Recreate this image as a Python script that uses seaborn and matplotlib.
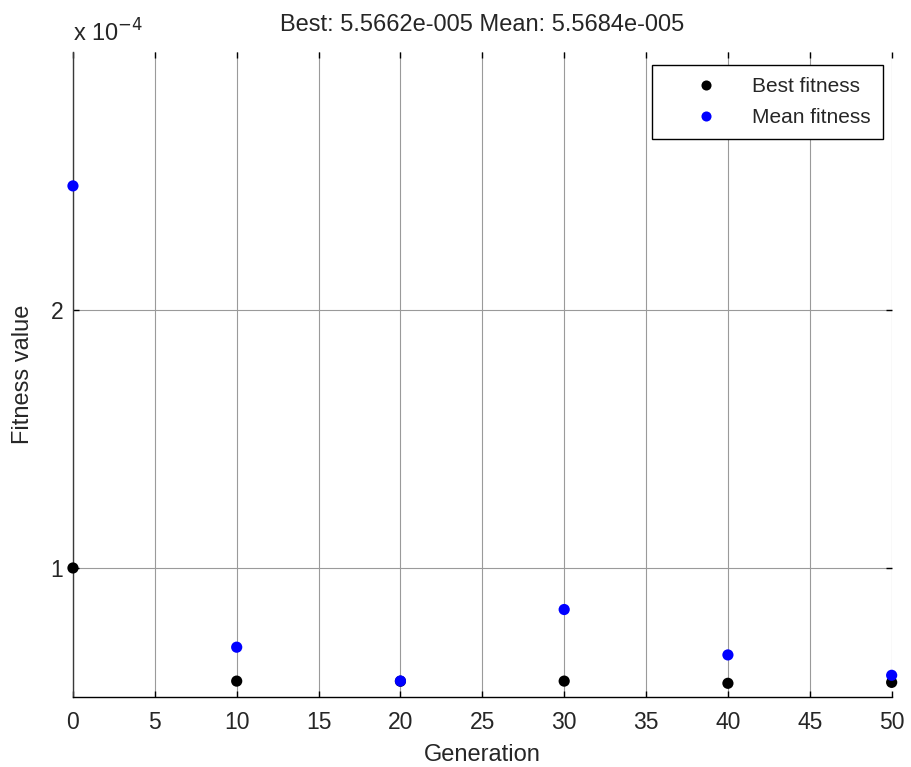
import matplotlib
matplotlib.use("Agg")
import matplotlib.pyplot as plt
from matplotlib.ticker import FuncFormatter
import seaborn as sns
import pandas as pd

# Fitness per sampled generation
generations = [0, 10, 20, 30, 40, 50]
best_fitness = [1.0e-4, 5.615e-5, 5.61e-5, 5.615e-5, 5.53e-5, 5.5662e-5]
mean_fitness = [2.481e-4, 6.93e-5, 5.62e-5, 8.39e-5, 6.63e-5, 5.84e-5]
series_names = ["Best fitness", "Mean fitness"]
x_ticks = list(range(0, 51, 5))
y_ticks = [1e-4, 2e-4]
title_text = "Best: 5.5662e-005 Mean: 5.5684e-005"

df = pd.DataFrame({
    "Generation": generations * 2,
    "Fitness": best_fitness + mean_fitness,
    "Series": [series_names[0]] * len(generations) + [series_names[1]] * len(generations),
})

sns.set_theme(style="white")
plt.rcParams["font.family"] = ["Liberation Sans", "DejaVu Sans"]

fig = plt.figure(figsize=(9.12, 7.67), dpi=100)
ax = fig.add_axes([0.080, 0.0913, 0.8977, 0.8409])

sns.scatterplot(data=df, x="Generation", y="Fitness", hue="Series",
                palette={"Best fitness": "black", "Mean fitness": "#0000ff"},
                s=65, edgecolor="none", ax=ax, zorder=3, clip_on=False)

ax.set_xlim(0, 50)
ax.set_ylim(0.5e-4, 3.0e-4)
ax.set_xticks(x_ticks)
ax.set_yticks(y_ticks)
ax.yaxis.set_major_formatter(FuncFormatter(lambda v, p: f"{v / 1e-4:g}"))

ax.grid(True, color="#9a9a9a", linewidth=0.8)
ax.set_axisbelow(True)
for side in ("top", "right"):
    ax.spines[side].set_visible(False)
ax.spines["left"].set_color("#3a3a3a")
ax.spines["bottom"].set_color("black")
ax.spines["left"].set_linewidth(1.0)
ax.spines["bottom"].set_linewidth(1.0)

ax.tick_params(axis="both", direction="in", length=4, width=1, color="black",
               labelsize=16.5, top=True, right=True, bottom=True, left=True)
ax.tick_params(axis="x", pad=10)
ax.tick_params(axis="y", pad=7)

ax.set_xlabel("Generation", fontsize=17, labelpad=7)
ax.set_ylabel("Fitness value", fontsize=17, labelpad=12)
ax.set_title(title_text, fontsize=17, pad=15)

# Exponent label for the y axis
ax.text(0.0, 1.008, r"x 10$^{-4}$", transform=ax.transAxes, fontsize=17,
        ha="left", va="bottom")

leg = ax.legend(loc="upper right", bbox_to_anchor=(0.989, 0.98), fontsize=15,
                frameon=True, fancybox=False, edgecolor="black", framealpha=1,
                handlelength=4.0, handletextpad=0.2, borderpad=0.6,
                labelspacing=0.55, borderaxespad=0, markerscale=0.9, title=None)
leg.get_frame().set_linewidth(1.0)

fig.savefig("out.png", dpi=100)
